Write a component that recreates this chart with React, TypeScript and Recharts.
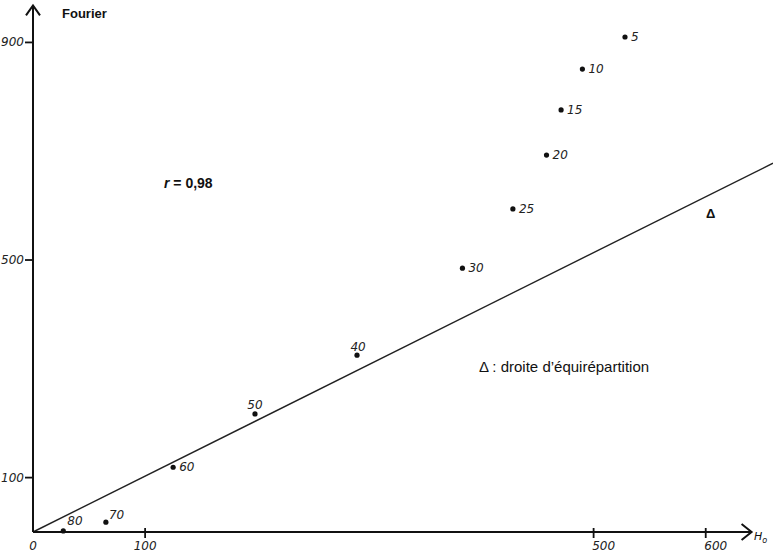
import {
  ComposedChart,
  Scatter,
  XAxis,
  YAxis,
  ReferenceLine,
  ReferenceDot,
} from 'recharts';

// points: label, Ho (x) and Fourier (y)
const pointLabels = ['5', '10', '15', '20', '25', '30', '40', '50', '60', '70', '80'];
const hoValues = [528, 490, 471, 458, 428, 383, 289, 198, 125, 65, 27];
const fourierValues = [910, 851, 776, 693, 594, 485, 325, 217, 119, 18, 2];

const xTicks = [0, 100, 500, 600];
const yTicks = [100, 500, 900];

// droite d'équirépartition
const deltaX = [0, 660];
const deltaY = [0, 678];

const X_MAX = 660;
const Y_MAX = 978;
const X_ARROW = 640;
const Y_ARROW = 968;

// label offsets (dx, dy, anchor) per point
const labelPlacement: Record<string, [number, number, string]> = {
  '40': [1, -4, 'middle'],
  '50': [0, -5, 'middle'],
  '70': [3, -3, 'start'],
  '80': [4, -6, 'start'],
};

const points = pointLabels.map((name, i) => ({
  name,
  x: hoValues[i],
  y: fourierValues[i],
}));

const handFont = '"DejaVu Sans", sans-serif';
const typeFont = '"Liberation Sans", Arial, sans-serif';

const PointShape = (props: any) => {
  const { cx, cy, payload } = props;
  const [dx, dy, anchor] = labelPlacement[payload.name] || [6, 4, 'start'];
  return (
    <g>
      <circle cx={cx} cy={cy} r={2.6} fill="#111" />
      <text
        x={cx + dx}
        y={cy + dy}
        textAnchor={anchor as any}
        fontSize={12}
        fontStyle="italic"
        fontFamily={handFont}
        fill="#222"
      >
        {payload.name}
      </text>
    </g>
  );
};

const XTick = (props: any) => {
  const { x, y, payload } = props;
  const shift = payload.value >= 500 ? 10 : 0;
  return (
    <g>
      <text
        x={x + shift}
        y={y + 18}
        textAnchor="middle"
        fontSize={12}
        fontStyle="italic"
        fontFamily={handFont}
        fill="#222"
      >
        {payload.value}
      </text>
      {payload.value !== 0 && (
        <path d={`M${x},${y - 4}V${y + 6}`} stroke="#111" strokeWidth={1.8} />
      )}
    </g>
  );
};

const YTick = (props: any) => {
  const { x, y, payload } = props;
  return (
    <g>
      <text
        x={x - 9}
        y={y + 4}
        textAnchor="end"
        fontSize={12}
        fontStyle="italic"
        fontFamily={handFont}
        fill="#222"
      >
        {payload.value}
      </text>
      <path d={`M${x - 8},${y}H${x}`} stroke="#111" strokeWidth={1.8} />
    </g>
  );
};

const ArrowRight = (props: any) => {
  const { cx, cy } = props;
  return (
    <path
      d={`M${cx - 9},${cy - 8} L${cx + 1},${cy} L${cx - 9},${cy + 8}`}
      fill="none"
      stroke="#111"
      strokeWidth={2}
    />
  );
};

const ArrowUp = (props: any) => {
  const { cx, cy } = props;
  return (
    <path
      d={`M${cx - 7},${cy + 10} L${cx},${cy} L${cx + 7},${cy + 10}`}
      fill="none"
      stroke="#111"
      strokeWidth={2}
    />
  );
};

const textStyle = {
  position: 'absolute' as const,
  fontFamily: typeFont,
  fontSize: 13,
  color: '#111',
  whiteSpace: 'nowrap' as const,
};

const App = () => {
  return (
    <div
      style={{
        position: 'absolute',
        left: 0,
        top: 0,
        width: 773,
        height: 558,
        background: '#fff',
      }}
    >
      <ComposedChart
        width={773}
        height={558}
        margin={{ top: 0, right: 0, left: 0, bottom: 0 }}
      >
        <XAxis
          type="number"
          dataKey="x"
          domain={[0, X_MAX]}
          ticks={xTicks}
          height={26}
          axisLine={false}
          tickLine={false}
          tickSize={0}
          tickMargin={0}
          tick={<XTick />}
          interval={0}
        />
        <YAxis
          type="number"
          dataKey="y"
          domain={[0, Y_MAX]}
          ticks={yTicks}
          width={33}
          axisLine={false}
          tickLine={false}
          tickSize={0}
          tickMargin={0}
          tick={<YTick />}
          interval={0}
        />
        <ReferenceLine
          segment={[
            { x: deltaX[0], y: deltaY[0] },
            { x: deltaX[1], y: deltaY[1] },
          ]}
          stroke="#222"
          strokeWidth={1.4}
          ifOverflow="visible"
        />
        <ReferenceLine
          segment={[
            { x: 0, y: 0 },
            { x: X_ARROW, y: 0 },
          ]}
          stroke="#111"
          strokeWidth={2}
          ifOverflow="visible"
        />
        <ReferenceLine
          segment={[
            { x: 0, y: 0 },
            { x: 0, y: Y_ARROW },
          ]}
          stroke="#111"
          strokeWidth={2}
          ifOverflow="visible"
        />
        <ReferenceDot x={X_ARROW} y={0} ifOverflow="visible" shape={<ArrowRight />} />
        <ReferenceDot x={0} y={Y_ARROW} ifOverflow="visible" shape={<ArrowUp />} />
        <Scatter
          data={points}
          dataKey="y"
          shape={<PointShape />}
          isAnimationActive={false}
        />
      </ComposedChart>

      <div style={{ ...textStyle, left: 62, top: 6, fontWeight: 'bold' }}>Fourier</div>
      <div style={{ ...textStyle, left: 164, top: 175, fontSize: 14, fontWeight: 'bold' }}>
        <i>r</i> = 0,98
      </div>
      <div style={{ ...textStyle, left: 706, top: 206, fontWeight: 'bold' }}>Δ</div>
      <div style={{ ...textStyle, left: 479, top: 358, fontSize: 15 }}>
        Δ : droite d’équirépartition
      </div>
      <div
        style={{
          ...textStyle,
          left: 754,
          top: 530,
          fontSize: 11,
          fontStyle: 'italic',
          fontFamily: handFont,
        }}
      >
        H<sub style={{ fontSize: 8 }}>o</sub>
      </div>
    </div>
  );
};

export default App;
